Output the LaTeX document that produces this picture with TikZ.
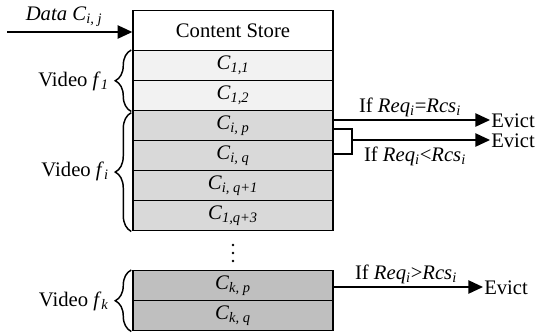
\documentclass[tikz,border=0pt]{standalone}
\usepackage{fontspec}
\setmainfont{Liberation Serif}
\usetikzlibrary{arrows.meta,decorations.pathreplacing}
\newcommand{\sbi}[1]{\textsubscript{\textit{#1}}}
\begin{document}
\begin{tikzpicture}[x=0.75pt,y=-0.75pt,
  txt/.style={font=\fontsize{15.5}{18}\selectfont, inner sep=0pt},
  cell/.style={draw, line width=1.1pt, minimum width=150pt, minimum height=22.5pt,
    inner sep=0pt, anchor=north, font=\fontsize{15.5}{18}\selectfont},
  arr/.style={line width=1.1pt, -{Triangle[length=11pt,width=10pt]}},
  ln/.style={line width=1.1pt},
  dotc/.style={fill=black},
  brc/.style={line width=1.1pt, decorate, decoration={brace, amplitude=12pt}}]
\useasboundingbox (0,0) rectangle (539,333);
% cells
\node[cell, fill=white, minimum height=30pt] (cs) at (233,10) {Content Store};
\node[cell, fill=black!5] (c11) at (233,50) {\textit{C}\sbi{1,1}};
\node[cell, fill=black!5] (c12) at (233,80) {\textit{C}\sbi{1,2}};
\node[cell, fill=black!15] (cip) at (233,110) {\textit{C}\sbi{i, p}};
\node[cell, fill=black!15] (ciq) at (233,140) {\textit{C}\sbi{i, q}};
\node[cell, fill=black!15] (ciq1) at (233,170) {\textit{C}\sbi{i, q+1}};
\node[cell, fill=black!15] (c1q3) at (233,200) {\textit{C}\sbi{1,q+3}};
\fill[dotc] (233,245) circle (1.1pt);
\fill[dotc] (233,253) circle (1.1pt);
\fill[dotc] (233,261) circle (1.1pt);
\node[cell, fill=black!25] (ckp) at (233,270) {\textit{C}\sbi{k, p}};
\node[cell, fill=black!25] (ckq) at (233,300) {\textit{C}\sbi{k, q}};
% data in
\coordinate (din) at (7,32);
\draw[arr] (din) -- (din -| cs.west);
\node[txt] (dlab) at (64,17) {\textit{Data C}\sbi{i, j}};
% braces
\draw[brc] (c12.south west) ++(-1,0) coordinate (b1s) -- (c11.north west -| b1s);
\draw[brc] (c1q3.south west) ++(-1,0) coordinate (b2s) -- ([yshift=-2pt]cip.north west -| b2s);
\draw[brc] (ckq.south west) ++(-1,0) coordinate (b3s) -- (ckp.north west -| b3s);
\node[txt, anchor=east] (v1) at (109,81) {Video \textit{f}\sbi{1}};
\node[txt, anchor=east] (vi) at (109,171) {Video \textit{f}\sbi{i}};
\node[txt, anchor=east] (vk) at (109,301) {Video \textit{f}\sbi{k}};
% evict arrows
\coordinate (e1) at (490,120);
\draw[arr] (cip.east |- e1) -- (e1);
\node[txt, anchor=west] (ev1) at (491,121) {Evict};
\node[txt] (l1) at (410,107) {If \textit{Req}\sbi{i}=\textit{Rcs}\sbi{i}};
\coordinate (bt) at (352,129);
\coordinate (bb) at (352,154);
\draw[ln] (cip.east |- bt) -- (bt) -- (bb) -- (ciq.east |- bb);
\coordinate (e2) at (490,140);
\draw[arr] (bt |- e2) -- (e2);
\node[txt, anchor=west] (ev2) at (491,141) {Evict};
\node[txt] (l2) at (415,156) {If \textit{Req}\sbi{i}<\textit{Rcs}\sbi{i}};
\coordinate (e3) at (483,287);
\draw[arr] (ckp.east |- e3) -- (e3);
\node[txt, anchor=west] (ev3) at (484,288) {Evict};
\node[txt] (l3) at (406,274) {If \textit{Req}\sbi{i}>\textit{Rcs}\sbi{i}};
\end{tikzpicture}
\end{document}
